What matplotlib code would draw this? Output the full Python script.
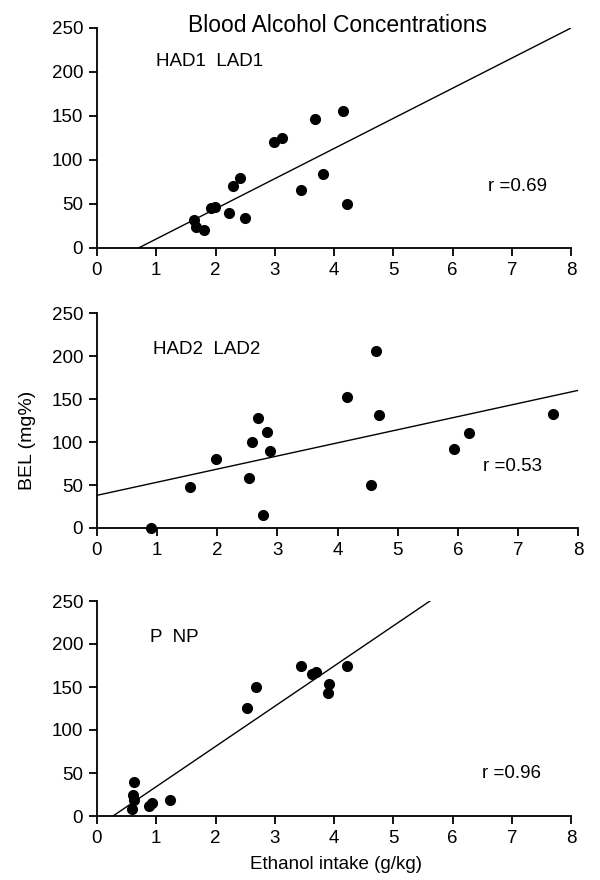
import matplotlib
matplotlib.use('Agg')
import matplotlib.pyplot as plt
import numpy as np

plt.rcParams['font.family'] = ['Liberation Sans', 'DejaVu Sans']

# panel 1: HAD1 LAD1
x1 = [1.64, 1.67, 1.81, 1.92, 1.99, 2.23, 2.29, 2.41, 2.49, 2.99, 3.13, 3.44, 3.68, 3.82, 4.16, 4.22]
y1 = [32, 24, 20, 45, 47, 40, 70, 79, 34, 121, 125, 66, 147, 84, 156, 50]
fit1 = [0.70, 8.0]
fity1 = [0, 250]

# panel 2: HAD2 LAD2
x2 = [0.90, 1.54, 1.98, 2.52, 2.58, 2.67, 2.76, 2.83, 2.88, 4.16, 4.56, 4.64, 4.69, 5.93, 6.19, 7.59]
y2 = [0, 48, 80, 58, 100, 128, 15, 112, 89, 152, 50, 206, 131, 92, 111, 132]
fit2 = [0.0, 8.0]
fity2 = [38, 160]

# panel 3: P NP
x3 = [0.62, 0.61, 0.63, 0.59, 0.87, 0.93, 1.24, 2.54, 2.68, 3.45, 3.63, 3.70, 3.91, 3.90, 4.22]
y3 = [39, 24, 19, 8, 12, 15, 19, 126, 150, 174, 165, 167, 153, 143, 174]
fit3 = [0.27, 5.62]
fity3 = [0, 250]

groups = ['HAD1  LAD1', 'HAD2  LAD2', 'P  NP']
r_text = ['r =0.69', 'r =0.53', 'r =0.96']

fig = plt.figure(figsize=(6, 8.8), dpi=100)
# axes rectangles in figure fractions (left, bottom, width, height)
rects = [
    (97 / 600, 1 - 248 / 880, 474 / 600, 220 / 880),
    (97 / 600, 1 - 528 / 880, 481 / 600, 215 / 880),
    (97 / 600, 1 - 816 / 880, 474 / 600, 215 / 880),
]
data = [(x1, y1, fit1, fity1), (x2, y2, fit2, fity2), (x3, y3, fit3, fity3)]
label_pos = [(1.0, 212), (0.93, 208), (0.89, 208)]
r_pos = [(6.6, 70), (6.42, 71), (6.5, 49)]

fs = 13.5
for i, (xs, ys, fx, fy) in enumerate(data):
    ax = fig.add_axes(rects[i])
    ax.plot(fx, fy, color='black', lw=1.0)
    ax.plot(xs, ys, 'o', color='black', ms=7, clip_on=False)
    ax.set_xlim(0, 8)
    ax.set_ylim(0, 250)
    ax.set_xticks(range(0, 9))
    ax.set_yticks(range(0, 251, 50))
    ax.spines['top'].set_visible(False)
    ax.spines['right'].set_visible(False)
    ax.spines['left'].set_linewidth(1.3)
    ax.spines['bottom'].set_linewidth(1.3)
    ax.tick_params(direction='out', length=6, width=1.3, labelsize=fs, pad=4)
    ax.text(label_pos[i][0], label_pos[i][1], groups[i], fontsize=fs, va='center')
    ax.text(r_pos[i][0], r_pos[i][1], r_text[i], fontsize=fs, va='center')

fig.text(338 / 600, 1 - 32 / 880, 'Blood Alcohol Concentrations', fontsize=16.5,
         ha='center', va='baseline')
fig.text(336 / 600, 1 - 869 / 880, 'Ethanol intake (g/kg)', fontsize=fs,
         ha='center', va='baseline')
fig.text(27 / 600, 1 - 440 / 880, 'BEL (mg%)', fontsize=14, rotation=90,
         ha='center', va='center')

fig.savefig('out.png', dpi=100)
